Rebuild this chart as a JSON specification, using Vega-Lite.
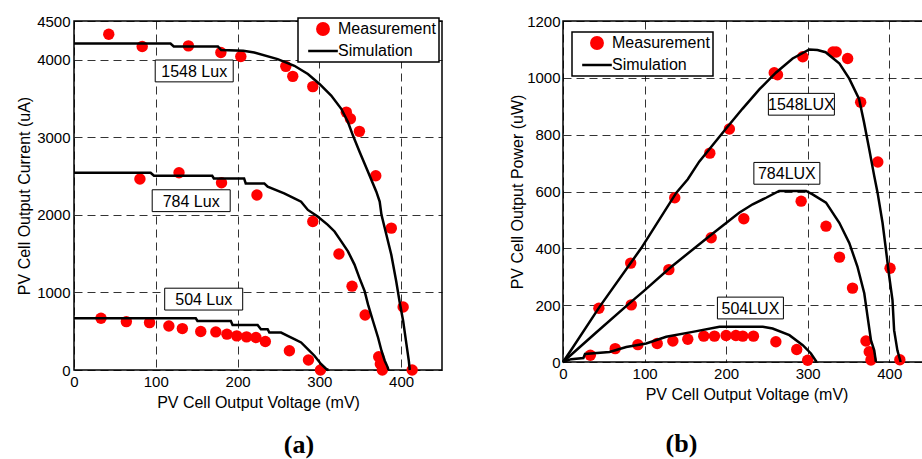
{
  "$schema": "https://vega.github.io/schema/vega-lite/v6.json",
  "background": "white",
  "padding": {"left": 15, "top": 13, "right": 0, "bottom": 0},
  "spacing": 65,
  "config": {
    "view": {"stroke": "black", "strokeWidth": 1.5},
    "axis": {
      "labelFont": "Liberation Sans", "labelFontSize": 15, "labelColor": "black", "format": "d",
      "titleFont": "Liberation Sans", "titleFontSize": 16, "titleFontWeight": "normal", "titleColor": "black",
      "grid": true, "gridColor": "#000000", "gridDash": [8, 5], "gridWidth": 1, "gridOpacity": 0.8,
      "domain": false, "ticks": false, "tickSize": 0, "labelFlush": false, "labelOverlap": false, "labelPadding": 4
    },
    "legend": {
      "title": null, "strokeColor": "black", "strokeWidth": 1.5, "fillColor": "white", "padding": 3,
      "labelFont": "Liberation Sans", "labelFontSize": 16, "labelColor": "black", "symbolSize": 130, "symbolOffset": 14, "labelOffset": 7, "rowPadding": 3,
      "symbolStrokeWidth": 2.5
    }
  },
  "datasets": {
    "a_meas": [
      {"series": "Measurement", "lux": 1548, "v": 42.5, "i": 4329}, {"series": "Measurement", "lux": 1548, "v": 83.4, "i": 4171},
      {"series": "Measurement", "lux": 1548, "v": 139.9, "i": 4179}, {"series": "Measurement", "lux": 1548, "v": 179.6, "i": 4094},
      {"series": "Measurement", "lux": 1548, "v": 204, "i": 4043}, {"series": "Measurement", "lux": 1548, "v": 259, "i": 3915},
      {"series": "Measurement", "lux": 1548, "v": 267.5, "i": 3786}, {"series": "Measurement", "lux": 1548, "v": 292, "i": 3654},
      {"series": "Measurement", "lux": 1548, "v": 333, "i": 3325}, {"series": "Measurement", "lux": 1548, "v": 338, "i": 3239},
      {"series": "Measurement", "lux": 1548, "v": 349, "i": 3077}, {"series": "Measurement", "lux": 1548, "v": 369, "i": 2504},
      {"series": "Measurement", "lux": 1548, "v": 388, "i": 1829}, {"series": "Measurement", "lux": 1548, "v": 402.5, "i": 812},
      {"series": "Measurement", "lux": 1548, "v": 413.5, "i": 0},
      {"series": "Measurement", "lux": 784, "v": 80.6, "i": 2462}, {"series": "Measurement", "lux": 784, "v": 128.4, "i": 2543},
      {"series": "Measurement", "lux": 784, "v": 180.4, "i": 2415}, {"series": "Measurement", "lux": 784, "v": 223.7, "i": 2256},
      {"series": "Measurement", "lux": 784, "v": 292, "i": 1915}, {"series": "Measurement", "lux": 784, "v": 324, "i": 1496},
      {"series": "Measurement", "lux": 784, "v": 340, "i": 1081}, {"series": "Measurement", "lux": 784, "v": 356, "i": 709},
      {"series": "Measurement", "lux": 784, "v": 372.6, "i": 171}, {"series": "Measurement", "lux": 784, "v": 374.6, "i": 77},
      {"series": "Measurement", "lux": 784, "v": 377, "i": 0},
      {"series": "Measurement", "lux": 504, "v": 33, "i": 667}, {"series": "Measurement", "lux": 504, "v": 64, "i": 624},
      {"series": "Measurement", "lux": 504, "v": 92.4, "i": 611}, {"series": "Measurement", "lux": 504, "v": 116, "i": 568},
      {"series": "Measurement", "lux": 504, "v": 132.5, "i": 534}, {"series": "Measurement", "lux": 504, "v": 155, "i": 496},
      {"series": "Measurement", "lux": 504, "v": 173.4, "i": 491}, {"series": "Measurement", "lux": 504, "v": 187, "i": 462},
      {"series": "Measurement", "lux": 504, "v": 199, "i": 440}, {"series": "Measurement", "lux": 504, "v": 211, "i": 427},
      {"series": "Measurement", "lux": 504, "v": 222.5, "i": 419}, {"series": "Measurement", "lux": 504, "v": 234, "i": 368},
      {"series": "Measurement", "lux": 504, "v": 263.4, "i": 248}, {"series": "Measurement", "lux": 504, "v": 286.7, "i": 128},
      {"series": "Measurement", "lux": 504, "v": 301.4, "i": 0}
    ],
    "a_sim": [
      {"series": "Simulation", "lux": 1548, "v": 0, "i": 4209}, {"series": "Simulation", "lux": 1548, "v": 118, "i": 4209},
      {"series": "Simulation", "lux": 1548, "v": 122, "i": 4171}, {"series": "Simulation", "lux": 1548, "v": 176, "i": 4171},
      {"series": "Simulation", "lux": 1548, "v": 180, "i": 4125}, {"series": "Simulation", "lux": 1548, "v": 207, "i": 4115},
      {"series": "Simulation", "lux": 1548, "v": 220.4, "i": 4094}, {"series": "Simulation", "lux": 1548, "v": 249, "i": 4009},
      {"series": "Simulation", "lux": 1548, "v": 269.5, "i": 3923}, {"series": "Simulation", "lux": 1548, "v": 286, "i": 3816},
      {"series": "Simulation", "lux": 1548, "v": 300.2, "i": 3688}, {"series": "Simulation", "lux": 1548, "v": 314.5, "i": 3538},
      {"series": "Simulation", "lux": 1548, "v": 326.8, "i": 3368}, {"series": "Simulation", "lux": 1548, "v": 335, "i": 3197},
      {"series": "Simulation", "lux": 1548, "v": 341, "i": 3026}, {"series": "Simulation", "lux": 1548, "v": 349.3, "i": 2812},
      {"series": "Simulation", "lux": 1548, "v": 359.5, "i": 2556}, {"series": "Simulation", "lux": 1548, "v": 369.7, "i": 2299},
      {"series": "Simulation", "lux": 1548, "v": 373.8, "i": 2171}, {"series": "Simulation", "lux": 1548, "v": 376, "i": 2000},
      {"series": "Simulation", "lux": 1548, "v": 382, "i": 1744}, {"series": "Simulation", "lux": 1548, "v": 388, "i": 1487},
      {"series": "Simulation", "lux": 1548, "v": 394, "i": 1145}, {"series": "Simulation", "lux": 1548, "v": 398, "i": 889},
      {"series": "Simulation", "lux": 1548, "v": 402.5, "i": 632}, {"series": "Simulation", "lux": 1548, "v": 406.5, "i": 333},
      {"series": "Simulation", "lux": 1548, "v": 409.4, "i": 120}, {"series": "Simulation", "lux": 1548, "v": 410.6, "i": 0},
      {"series": "Simulation", "lux": 784, "v": 0, "i": 2543}, {"series": "Simulation", "lux": 784, "v": 93.7, "i": 2543},
      {"series": "Simulation", "lux": 784, "v": 97.8, "i": 2504}, {"series": "Simulation", "lux": 784, "v": 169, "i": 2504},
      {"series": "Simulation", "lux": 784, "v": 171, "i": 2470}, {"series": "Simulation", "lux": 784, "v": 208, "i": 2470},
      {"series": "Simulation", "lux": 784, "v": 210, "i": 2406}, {"series": "Simulation", "lux": 784, "v": 232.7, "i": 2406},
      {"series": "Simulation", "lux": 784, "v": 236.8, "i": 2363}, {"series": "Simulation", "lux": 784, "v": 257, "i": 2278},
      {"series": "Simulation", "lux": 784, "v": 269.5, "i": 2214}, {"series": "Simulation", "lux": 784, "v": 277.7, "i": 2171},
      {"series": "Simulation", "lux": 784, "v": 286, "i": 2064}, {"series": "Simulation", "lux": 784, "v": 298, "i": 1979},
      {"series": "Simulation", "lux": 784, "v": 310.4, "i": 1872}, {"series": "Simulation", "lux": 784, "v": 318.6, "i": 1786},
      {"series": "Simulation", "lux": 784, "v": 326.8, "i": 1658}, {"series": "Simulation", "lux": 784, "v": 335, "i": 1530},
      {"series": "Simulation", "lux": 784, "v": 343, "i": 1359}, {"series": "Simulation", "lux": 784, "v": 349, "i": 1188},
      {"series": "Simulation", "lux": 784, "v": 355.4, "i": 1017}, {"series": "Simulation", "lux": 784, "v": 359.5, "i": 846},
      {"series": "Simulation", "lux": 784, "v": 365.6, "i": 632}, {"series": "Simulation", "lux": 784, "v": 371.8, "i": 419},
      {"series": "Simulation", "lux": 784, "v": 376, "i": 248}, {"series": "Simulation", "lux": 784, "v": 380, "i": 120},
      {"series": "Simulation", "lux": 784, "v": 383.6, "i": 34}, {"series": "Simulation", "lux": 784, "v": 384.5, "i": 0},
      {"series": "Simulation", "lux": 504, "v": 0, "i": 667}, {"series": "Simulation", "lux": 504, "v": 148.9, "i": 667},
      {"series": "Simulation", "lux": 504, "v": 151, "i": 632}, {"series": "Simulation", "lux": 504, "v": 191.8, "i": 632},
      {"series": "Simulation", "lux": 504, "v": 193.9, "i": 581}, {"series": "Simulation", "lux": 504, "v": 224.5, "i": 581},
      {"series": "Simulation", "lux": 504, "v": 228.6, "i": 526}, {"series": "Simulation", "lux": 504, "v": 236.8, "i": 526},
      {"series": "Simulation", "lux": 504, "v": 238.9, "i": 483}, {"series": "Simulation", "lux": 504, "v": 253.2, "i": 483},
      {"series": "Simulation", "lux": 504, "v": 261.3, "i": 440}, {"series": "Simulation", "lux": 504, "v": 269.5, "i": 397},
      {"series": "Simulation", "lux": 504, "v": 277.7, "i": 355}, {"series": "Simulation", "lux": 504, "v": 285.9, "i": 269},
      {"series": "Simulation", "lux": 504, "v": 294, "i": 184}, {"series": "Simulation", "lux": 504, "v": 302, "i": 77},
      {"series": "Simulation", "lux": 504, "v": 308.4, "i": 13}, {"series": "Simulation", "lux": 504, "v": 311, "i": 0}
    ],
    "a_lab": [
      {"label": "1548 Lux", "v": 147, "i": 3856},
      {"label": "784 Lux", "v": 143.3, "i": 2183},
      {"label": "504 Lux", "v": 158.6, "i": 914}
    ],
    "b_meas": [
      {"series": "Measurement", "lux": 1548, "v": 44, "p": 189}, {"series": "Measurement", "lux": 1548, "v": 83, "p": 348},
      {"series": "Measurement", "lux": 1548, "v": 137, "p": 578}, {"series": "Measurement", "lux": 1548, "v": 180, "p": 735},
      {"series": "Measurement", "lux": 1548, "v": 204, "p": 820}, {"series": "Measurement", "lux": 1548, "v": 259, "p": 1018},
      {"series": "Measurement", "lux": 1548, "v": 263, "p": 1011}, {"series": "Measurement", "lux": 1548, "v": 294, "p": 1074},
      {"series": "Measurement", "lux": 1548, "v": 331, "p": 1091}, {"series": "Measurement", "lux": 1548, "v": 335, "p": 1091},
      {"series": "Measurement", "lux": 1548, "v": 349, "p": 1068}, {"series": "Measurement", "lux": 1548, "v": 365, "p": 914},
      {"series": "Measurement", "lux": 1548, "v": 386, "p": 704}, {"series": "Measurement", "lux": 1548, "v": 401, "p": 330},
      {"series": "Measurement", "lux": 1548, "v": 413, "p": 8},
      {"series": "Measurement", "lux": 784, "v": 83.7, "p": 201}, {"series": "Measurement", "lux": 784, "v": 129.8, "p": 325},
      {"series": "Measurement", "lux": 784, "v": 181.7, "p": 437}, {"series": "Measurement", "lux": 784, "v": 221.7, "p": 504},
      {"series": "Measurement", "lux": 784, "v": 292, "p": 566}, {"series": "Measurement", "lux": 784, "v": 322.5, "p": 478},
      {"series": "Measurement", "lux": 784, "v": 339, "p": 369}, {"series": "Measurement", "lux": 784, "v": 355, "p": 260},
      {"series": "Measurement", "lux": 784, "v": 371.5, "p": 74}, {"series": "Measurement", "lux": 784, "v": 375.5, "p": 36},
      {"series": "Measurement", "lux": 784, "v": 377.6, "p": 7},
      {"series": "Measurement", "lux": 504, "v": 33.5, "p": 24}, {"series": "Measurement", "lux": 504, "v": 64, "p": 47},
      {"series": "Measurement", "lux": 504, "v": 91.8, "p": 61}, {"series": "Measurement", "lux": 504, "v": 115.5, "p": 65},
      {"series": "Measurement", "lux": 504, "v": 134.7, "p": 74}, {"series": "Measurement", "lux": 504, "v": 153, "p": 80},
      {"series": "Measurement", "lux": 504, "v": 172.6, "p": 91}, {"series": "Measurement", "lux": 504, "v": 185.7, "p": 91},
      {"series": "Measurement", "lux": 504, "v": 200, "p": 93}, {"series": "Measurement", "lux": 504, "v": 212, "p": 93},
      {"series": "Measurement", "lux": 504, "v": 220.4, "p": 91}, {"series": "Measurement", "lux": 504, "v": 233.5, "p": 91},
      {"series": "Measurement", "lux": 504, "v": 261, "p": 71}, {"series": "Measurement", "lux": 504, "v": 286.6, "p": 44},
      {"series": "Measurement", "lux": 504, "v": 300, "p": 6}
    ],
    "b_sim": [
      {"series": "Simulation", "lux": 1548, "v": 0, "p": 0}, {"series": "Simulation", "lux": 1548, "v": 10, "p": 42},
      {"series": "Simulation", "lux": 1548, "v": 45, "p": 195}, {"series": "Simulation", "lux": 1548, "v": 96, "p": 401},
      {"series": "Simulation", "lux": 1548, "v": 139, "p": 596}, {"series": "Simulation", "lux": 1548, "v": 153, "p": 643},
      {"series": "Simulation", "lux": 1548, "v": 167, "p": 705}, {"series": "Simulation", "lux": 1548, "v": 200, "p": 822},
      {"series": "Simulation", "lux": 1548, "v": 220, "p": 891}, {"series": "Simulation", "lux": 1548, "v": 241, "p": 960},
      {"series": "Simulation", "lux": 1548, "v": 261, "p": 1018}, {"series": "Simulation", "lux": 1548, "v": 281.6, "p": 1068},
      {"series": "Simulation", "lux": 1548, "v": 302, "p": 1100}, {"series": "Simulation", "lux": 1548, "v": 312, "p": 1098},
      {"series": "Simulation", "lux": 1548, "v": 322, "p": 1090}, {"series": "Simulation", "lux": 1548, "v": 339, "p": 1050},
      {"series": "Simulation", "lux": 1548, "v": 351, "p": 997}, {"series": "Simulation", "lux": 1548, "v": 363, "p": 926},
      {"series": "Simulation", "lux": 1548, "v": 369, "p": 845}, {"series": "Simulation", "lux": 1548, "v": 375.5, "p": 749},
      {"series": "Simulation", "lux": 1548, "v": 381.6, "p": 655}, {"series": "Simulation", "lux": 1548, "v": 385.7, "p": 596},
      {"series": "Simulation", "lux": 1548, "v": 391.8, "p": 490}, {"series": "Simulation", "lux": 1548, "v": 396, "p": 395},
      {"series": "Simulation", "lux": 1548, "v": 400, "p": 301}, {"series": "Simulation", "lux": 1548, "v": 404, "p": 218},
      {"series": "Simulation", "lux": 1548, "v": 406, "p": 112}, {"series": "Simulation", "lux": 1548, "v": 410, "p": 41},
      {"series": "Simulation", "lux": 1548, "v": 414, "p": 0},
      {"series": "Simulation", "lux": 784, "v": 0, "p": 0}, {"series": "Simulation", "lux": 784, "v": 40, "p": 102},
      {"series": "Simulation", "lux": 784, "v": 81.7, "p": 207}, {"series": "Simulation", "lux": 784, "v": 100, "p": 252},
      {"series": "Simulation", "lux": 784, "v": 130.6, "p": 330}, {"series": "Simulation", "lux": 784, "v": 181.7, "p": 448},
      {"series": "Simulation", "lux": 784, "v": 216, "p": 525}, {"series": "Simulation", "lux": 784, "v": 232.6, "p": 555},
      {"series": "Simulation", "lux": 784, "v": 249, "p": 578}, {"series": "Simulation", "lux": 784, "v": 265, "p": 602},
      {"series": "Simulation", "lux": 784, "v": 298, "p": 602}, {"series": "Simulation", "lux": 784, "v": 306, "p": 590},
      {"series": "Simulation", "lux": 784, "v": 322.5, "p": 561}, {"series": "Simulation", "lux": 784, "v": 338.8, "p": 490},
      {"series": "Simulation", "lux": 784, "v": 351, "p": 419}, {"series": "Simulation", "lux": 784, "v": 361, "p": 336},
      {"series": "Simulation", "lux": 784, "v": 369.4, "p": 242}, {"series": "Simulation", "lux": 784, "v": 373.5, "p": 159},
      {"series": "Simulation", "lux": 784, "v": 377.6, "p": 77}, {"series": "Simulation", "lux": 784, "v": 381.6, "p": 41},
      {"series": "Simulation", "lux": 784, "v": 383.7, "p": 0},
      {"series": "Simulation", "lux": 504, "v": 0, "p": 0}, {"series": "Simulation", "lux": 504, "v": 10, "p": 10},
      {"series": "Simulation", "lux": 504, "v": 25, "p": 14}, {"series": "Simulation", "lux": 504, "v": 27, "p": 28},
      {"series": "Simulation", "lux": 504, "v": 57, "p": 35}, {"series": "Simulation", "lux": 504, "v": 77.6, "p": 53},
      {"series": "Simulation", "lux": 504, "v": 102, "p": 65}, {"series": "Simulation", "lux": 504, "v": 126.6, "p": 89},
      {"series": "Simulation", "lux": 504, "v": 159, "p": 106}, {"series": "Simulation", "lux": 504, "v": 191.9, "p": 124},
      {"series": "Simulation", "lux": 504, "v": 245, "p": 124}, {"series": "Simulation", "lux": 504, "v": 257, "p": 118},
      {"series": "Simulation", "lux": 504, "v": 277.6, "p": 94.5}, {"series": "Simulation", "lux": 504, "v": 294, "p": 59},
      {"series": "Simulation", "lux": 504, "v": 304, "p": 30}, {"series": "Simulation", "lux": 504, "v": 311, "p": 0}
    ],
    "b_lab": [
      {"label": "1548LUX", "v": 292.3, "p": 907},
      {"label": "784LUX", "v": 274.5, "p": 664},
      {"label": "504LUX", "v": 229.8, "p": 190}
    ]
  },
  "resolve": {"scale": {"color": "independent"}, "legend": {"color": "independent"}},
  "hconcat": [
    {
      "width": 368,
      "height": 349,
      "title": {"text": "(a)", "orient": "bottom", "frame": "group", "anchor": "middle", "dx": 41, "offset": 22, "font": "Liberation Serif", "fontSize": 26, "fontWeight": "bold", "color": "black"},
      "layer": [
        {
          "data": {"name": "a_meas"},
          "mark": {"type": "point", "filled": true, "size": 130, "opacity": 1},
          "encoding": {
            "x": {"field": "v", "type": "quantitative", "scale": {"domain": [0, 450], "nice": false},
                  "axis": {"title": "PV Cell Output Voltage (mV)", "values": [0, 100, 200, 300, 400], "titlePadding": 5}},
            "y": {"field": "i", "type": "quantitative", "scale": {"domain": [0, 4500], "nice": false},
                  "axis": {"title": "PV Cell Output Current (uA)", "values": [0, 1000, 2000, 3000, 4000, 4500], "titlePadding": 4}},
            "color": {"field": "series", "type": "nominal",
                      "scale": {"domain": ["Measurement", "Simulation"], "range": ["#ff0000", "#000000"]},
                      "legend": {"orient": "none", "legendX": 224, "legendY": -3,
                        "encoding": {"symbols": {
                          "shape": {"value": {"expr": "datum.value === 'Simulation' ? 'M-2.6,0H2.6' : 'circle'"}},
                          "fill": {"value": {"expr": "datum.value === 'Simulation' ? 'transparent' : '#ff0000'"}},
                          "stroke": {"value": {"expr": "datum.value === 'Simulation' ? '#000000' : 'transparent'"}},
                          "strokeWidth": {"value": 2.5}, "opacity": {"value": 1}}}}}
          }
        },
        {
          "data": {"name": "a_sim"},
          "mark": {"type": "line", "strokeWidth": 2.5},
          "encoding": {
            "x": {"field": "v", "type": "quantitative"},
            "y": {"field": "i", "type": "quantitative"},
            "detail": {"field": "lux", "type": "nominal"},
            "color": {"field": "series", "type": "nominal"}
          }
        },
        {
          "data": {"name": "a_lab"},
          "mark": {"type": "point", "shape": "M-1,-0.28H1V0.28H-1Z", "size": 6084, "filled": true, "fill": "white", "stroke": "black", "strokeWidth": 1, "opacity": 1},
          "encoding": {
            "x": {"field": "v", "type": "quantitative"},
            "y": {"field": "i", "type": "quantitative"}
          }
        },
        {
          "data": {"name": "a_lab"},
          "mark": {"type": "text", "font": "Liberation Sans", "fontSize": 16, "color": "black", "align": "center", "baseline": "middle", "dy": 1},
          "encoding": {
            "x": {"field": "v", "type": "quantitative"},
            "y": {"field": "i", "type": "quantitative"},
            "text": {"field": "label", "type": "nominal"}
          }
        }
      ]
    },
    {
      "width": 367,
      "height": 341,
      "title": {"text": "(b)", "orient": "bottom", "frame": "group", "anchor": "middle", "dx": -65, "offset": 29, "font": "Liberation Serif", "fontSize": 26, "fontWeight": "bold", "color": "black"},
      "layer": [
        {
          "data": {"name": "b_meas"},
          "mark": {"type": "point", "filled": true, "size": 130, "opacity": 1},
          "encoding": {
            "x": {"field": "v", "type": "quantitative", "scale": {"domain": [0, 450], "nice": false},
                  "axis": {"title": "PV Cell Output Voltage (mV)", "values": [0, 100, 200, 300, 400], "titlePadding": 5}},
            "y": {"field": "p", "type": "quantitative", "scale": {"domain": [0, 1200], "nice": false},
                  "axis": {"title": "PV Cell Output Power (uW)", "values": [0, 200, 400, 600, 800, 1000, 1200], "titlePadding": 1, "labelPadding": 3}},
            "color": {"field": "series", "type": "nominal",
                      "scale": {"domain": ["Measurement", "Simulation"], "range": ["#ff0000", "#000000"]},
                      "legend": {"orient": "none", "legendX": 9, "legendY": 11,
                        "encoding": {"symbols": {
                          "shape": {"value": {"expr": "datum.value === 'Simulation' ? 'M-2.6,0H2.6' : 'circle'"}},
                          "fill": {"value": {"expr": "datum.value === 'Simulation' ? 'transparent' : '#ff0000'"}},
                          "stroke": {"value": {"expr": "datum.value === 'Simulation' ? '#000000' : 'transparent'"}},
                          "strokeWidth": {"value": 2.5}, "opacity": {"value": 1}}}}}
          }
        },
        {
          "data": {"name": "b_sim"},
          "mark": {"type": "line", "strokeWidth": 2.5},
          "encoding": {
            "x": {"field": "v", "type": "quantitative"},
            "y": {"field": "p", "type": "quantitative"},
            "detail": {"field": "lux", "type": "nominal"},
            "color": {"field": "series", "type": "nominal"}
          }
        },
        {
          "data": {"name": "b_lab"},
          "mark": {"type": "point", "shape": "M-1,-0.33H1V0.33H-1Z", "size": 4356, "filled": true, "fill": "white", "stroke": "black", "strokeWidth": 1, "opacity": 1},
          "encoding": {
            "x": {"field": "v", "type": "quantitative"},
            "y": {"field": "p", "type": "quantitative"}
          }
        },
        {
          "data": {"name": "b_lab"},
          "mark": {"type": "text", "font": "Liberation Sans", "fontSize": 16, "color": "black", "align": "center", "baseline": "middle", "dy": 1},
          "encoding": {
            "x": {"field": "v", "type": "quantitative"},
            "y": {"field": "p", "type": "quantitative"},
            "text": {"field": "label", "type": "nominal"}
          }
        }
      ]
    }
  ]
}
